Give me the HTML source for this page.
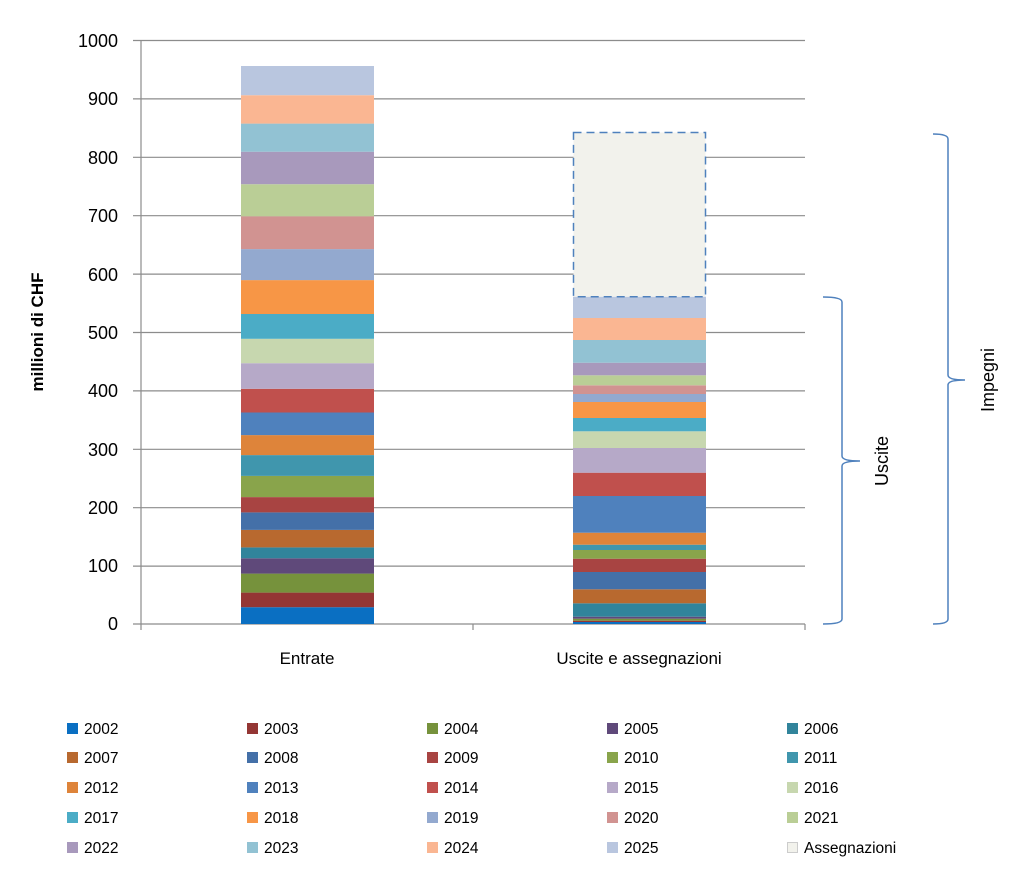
<!DOCTYPE html>
<html><head><meta charset="utf-8"><style>
html,body{margin:0;padding:0;background:#fff;}
svg{display:block;font-family:"Liberation Sans",sans-serif;}
</style></head><body>
<svg width="1024" height="886" viewBox="0 0 1024 886" xmlns="http://www.w3.org/2000/svg">
<rect width="1024" height="886" fill="#fff"/>
<g stroke="#8c8c8c" stroke-width="1.2">
<line x1="133" y1="40.5" x2="805" y2="40.5"/>
<line x1="133" y1="98.9" x2="805" y2="98.9"/>
<line x1="133" y1="157.3" x2="805" y2="157.3"/>
<line x1="133" y1="215.7" x2="805" y2="215.7"/>
<line x1="133" y1="274.1" x2="805" y2="274.1"/>
<line x1="133" y1="332.5" x2="805" y2="332.5"/>
<line x1="133" y1="390.9" x2="805" y2="390.9"/>
<line x1="133" y1="449.3" x2="805" y2="449.3"/>
<line x1="133" y1="507.7" x2="805" y2="507.7"/>
<line x1="133" y1="566.1" x2="805" y2="566.1"/>
<line x1="133" y1="624" x2="805" y2="624"/>
<line x1="141" y1="40" x2="141" y2="630"/>
<line x1="473" y1="624" x2="473" y2="630"/>
<line x1="805" y1="624" x2="805" y2="630"/>
</g>
<g font-size="18" fill="#000" text-anchor="end">
<text x="118" y="47">1000</text><text x="118" y="105">900</text><text x="118" y="164">800</text>
<text x="118" y="222">700</text><text x="118" y="281">600</text><text x="118" y="339">500</text>
<text x="118" y="397">400</text><text x="118" y="456">300</text><text x="118" y="514">200</text>
<text x="118" y="572">100</text><text x="118" y="630">0</text>
</g>
<text transform="translate(43,332) rotate(-90)" font-size="17" font-weight="bold" text-anchor="middle">millioni di CHF</text>
<text x="307" y="664" font-size="17" text-anchor="middle">Entrate</text>
<text x="639" y="664" font-size="17" text-anchor="middle">Uscite e assegnazioni</text>
<!-- Left bar -->
<g>
<rect x="241" y="607.2" width="133" height="16.8" fill="#0A6FC2"/>
<rect x="241" y="592.6" width="133" height="14.6" fill="#943634"/>
<rect x="241" y="573.6" width="133" height="19" fill="#76923C"/>
<rect x="241" y="558.3" width="133" height="15.3" fill="#5F497A"/>
<rect x="241" y="547.4" width="133" height="10.9" fill="#31849B"/>
<rect x="241" y="529.9" width="133" height="17.5" fill="#B8692F"/>
<rect x="241" y="512.4" width="133" height="17.5" fill="#4470A8"/>
<rect x="241" y="497.1" width="133" height="15.3" fill="#A84442"/>
<rect x="241" y="475.9" width="133" height="21.2" fill="#89A44B"/>
<rect x="241" y="455.1" width="133" height="20.8" fill="#4096AD"/>
<rect x="241" y="435.1" width="133" height="20" fill="#DE843A"/>
<rect x="241" y="412.5" width="133" height="22.6" fill="#4F81BD"/>
<rect x="241" y="388.8" width="133" height="23.7" fill="#C0504D"/>
<rect x="241" y="363.2" width="133" height="25.6" fill="#B6A9C8"/>
<rect x="241" y="338.8" width="133" height="24.4" fill="#C7D7AF"/>
<rect x="241" y="314" width="133" height="24.8" fill="#4BACC6"/>
<rect x="241" y="280.1" width="133" height="33.9" fill="#F79646"/>
<rect x="241" y="249.1" width="133" height="31" fill="#93A9CF"/>
<rect x="241" y="216.3" width="133" height="32.8" fill="#D19391"/>
<rect x="241" y="184.2" width="133" height="32.1" fill="#BACE96"/>
<rect x="241" y="151.7" width="133" height="32.5" fill="#A899BC"/>
<rect x="241" y="123.6" width="133" height="28.1" fill="#92C2D3"/>
<rect x="241" y="95.2" width="133" height="28.4" fill="#FAB692"/>
<rect x="241" y="66" width="133" height="29.2" fill="#B9C6DF"/>
</g>
<!-- Right bar -->
<g>
<rect x="573" y="622" width="133" height="2" fill="#0A6FC2"/>
<rect x="573" y="620.7" width="133" height="1.3" fill="#943634"/>
<rect x="573" y="618.7" width="133" height="2" fill="#76923C"/>
<rect x="573" y="616.7" width="133" height="2" fill="#5F497A"/>
<rect x="573" y="603.3" width="133" height="13.4" fill="#31849B"/>
<rect x="573" y="589.3" width="133" height="14" fill="#B8692F"/>
<rect x="573" y="572" width="133" height="17.3" fill="#4470A8"/>
<rect x="573" y="558.7" width="133" height="13.3" fill="#A84442"/>
<rect x="573" y="550" width="133" height="8.7" fill="#89A44B"/>
<rect x="573" y="544.7" width="133" height="5.3" fill="#4096AD"/>
<rect x="573" y="532.7" width="133" height="12" fill="#DE843A"/>
<rect x="573" y="496" width="133" height="36.7" fill="#4F81BD"/>
<rect x="573" y="472.7" width="133" height="23.3" fill="#C0504D"/>
<rect x="573" y="448" width="133" height="24.7" fill="#B6A9C8"/>
<rect x="573" y="431.3" width="133" height="16.7" fill="#C7D7AF"/>
<rect x="573" y="418" width="133" height="13.3" fill="#4BACC6"/>
<rect x="573" y="402" width="133" height="16" fill="#F79646"/>
<rect x="573" y="394" width="133" height="8" fill="#93A9CF"/>
<rect x="573" y="385.3" width="133" height="8.7" fill="#D19391"/>
<rect x="573" y="375.3" width="133" height="10" fill="#BACE96"/>
<rect x="573" y="362.7" width="133" height="12.6" fill="#A899BC"/>
<rect x="573" y="340" width="133" height="22.7" fill="#92C2D3"/>
<rect x="573" y="318" width="133" height="22" fill="#FAB692"/>
<rect x="573" y="296.7" width="133" height="21.3" fill="#B9C6DF"/>
<rect x="573.5" y="132.5" width="132" height="164.2" fill="#F2F2EC" stroke="#4F81BD" stroke-width="1.5" stroke-dasharray="8,5"/>
</g>
<!-- Brackets -->
<g fill="none" stroke="#4F81BD" stroke-width="1.5">
<path d="M823 297 Q842 297 842 302 L842 456 Q842 461 860 461 Q842 461 842 466 L842 619 Q842 624 823 624"/>
<path d="M933 134 Q948 134 948 139 L948 375 Q948 380 965 380 Q948 380 948 385 L948 619 Q948 624 933 624"/>
</g>
<text transform="translate(888,461) rotate(-90)" font-size="18" text-anchor="middle">Uscite</text>
<text transform="translate(994,380) rotate(-90)" font-size="18" text-anchor="middle">Impegni</text>
<!-- Legend -->
<g font-size="15.5" fill="#000">
<rect x="67" y="723" width="11" height="11" fill="#0A6FC2"/><text x="84" y="734">2002</text>
<rect x="247" y="723" width="11" height="11" fill="#943634"/><text x="264" y="734">2003</text>
<rect x="427" y="723" width="11" height="11" fill="#76923C"/><text x="444" y="734">2004</text>
<rect x="607" y="723" width="11" height="11" fill="#5F497A"/><text x="624" y="734">2005</text>
<rect x="787" y="723" width="11" height="11" fill="#31849B"/><text x="804" y="734">2006</text>

<rect x="67" y="752" width="11" height="11" fill="#B8692F"/><text x="84" y="763">2007</text>
<rect x="247" y="752" width="11" height="11" fill="#4470A8"/><text x="264" y="763">2008</text>
<rect x="427" y="752" width="11" height="11" fill="#A84442"/><text x="444" y="763">2009</text>
<rect x="607" y="752" width="11" height="11" fill="#89A44B"/><text x="624" y="763">2010</text>
<rect x="787" y="752" width="11" height="11" fill="#4096AD"/><text x="804" y="763">2011</text>

<rect x="67" y="782" width="11" height="11" fill="#DE843A"/><text x="84" y="793">2012</text>
<rect x="247" y="782" width="11" height="11" fill="#4F81BD"/><text x="264" y="793">2013</text>
<rect x="427" y="782" width="11" height="11" fill="#C0504D"/><text x="444" y="793">2014</text>
<rect x="607" y="782" width="11" height="11" fill="#B6A9C8"/><text x="624" y="793">2015</text>
<rect x="787" y="782" width="11" height="11" fill="#C7D7AF"/><text x="804" y="793">2016</text>

<rect x="67" y="812" width="11" height="11" fill="#4BACC6"/><text x="84" y="823">2017</text>
<rect x="247" y="812" width="11" height="11" fill="#F79646"/><text x="264" y="823">2018</text>
<rect x="427" y="812" width="11" height="11" fill="#93A9CF"/><text x="444" y="823">2019</text>
<rect x="607" y="812" width="11" height="11" fill="#D19391"/><text x="624" y="823">2020</text>
<rect x="787" y="812" width="11" height="11" fill="#BACE96"/><text x="804" y="823">2021</text>

<rect x="67" y="842" width="11" height="11" fill="#A899BC"/><text x="84" y="853">2022</text>
<rect x="247" y="842" width="11" height="11" fill="#92C2D3"/><text x="264" y="853">2023</text>
<rect x="427" y="842" width="11" height="11" fill="#FAB692"/><text x="444" y="853">2024</text>
<rect x="607" y="842" width="11" height="11" fill="#B9C6DF"/><text x="624" y="853">2025</text>
<rect x="787.5" y="842.5" width="10" height="10" fill="#F2F2EC" stroke="#ccc" stroke-width="1"/><text x="804" y="853">Assegnazioni</text>
</g>
</svg>
</body></html>
